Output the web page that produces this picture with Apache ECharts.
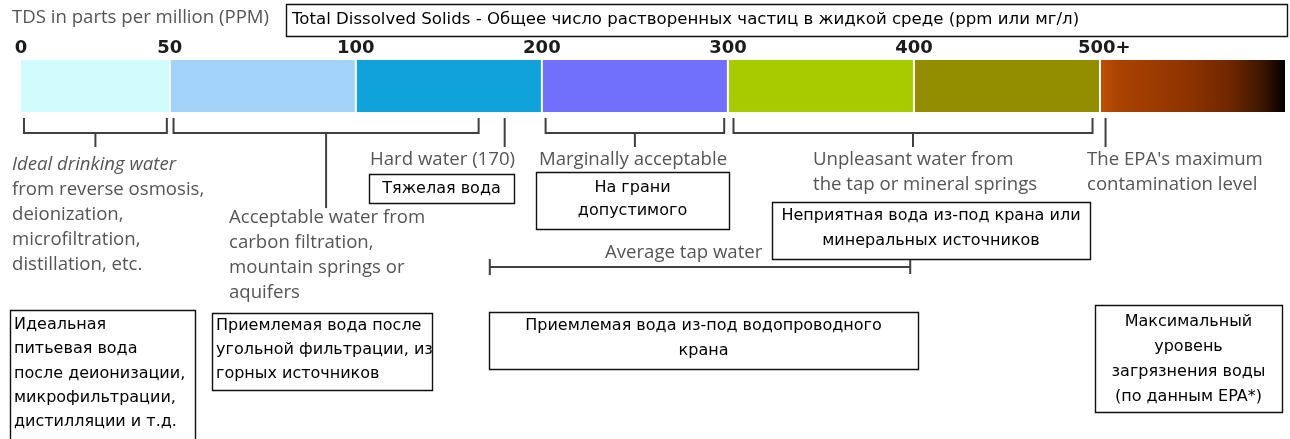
<!DOCTYPE html>
<html><head><meta charset="utf-8">
<script src="https://cdn.jsdelivr.net/npm/echarts@6/dist/echarts.min.js"></script>
<style>html,body{margin:0;padding:0;background:#fff}#c{width:1290px;height:439px}</style>
</head><body><div id="c"></div>
<script>
// ---------------- data ----------------
const bandStart = [0, 50, 100, 200, 300, 400, 500];
const bandEnd   = [50, 100, 200, 300, 400, 500, 600];
const tickValues = [0, 50, 100, 200, 300, 400, 500];
const tickLabels = ['0', '50', '100', '200', '300', '400', '500+'];
const bracketFrom = [1, 51, 202, 303];
const bracketTo   = [49, 166, 298, 496];
const markerValues = [180, 503];          // hard water (170) marker, EPA maximum level
const tapWaterRange = [172, 398];         // average tap water
const axisTitle = 'TDS in parts per million (PPM)';
const titleText = 'Total Dissolved Solids - Общее число растворенных частиц в жидкой среде (ppm или мг/л)';

// ---------------- layout / style ----------------
const bandUnits = [0.8, 1, 1, 1, 1, 1, 1];   // displayed width of each band
const bandColors = ['#d2fbfe', '#a4d3fa', '#0fa3da', '#7170fd', '#a8cb00', '#938d00', null];
const BAR_TOP = 60, BAR_H = 52;
const BR_TOP = 118, BR_Y = 133;
const stemEnd = [147, 208, 147, 147];
const LINE = '#404040';
const GREY = '#555555';
const EN_FONT = '"Open Sans"';
const EN_SIZE = 18.6;
const RU_FONT = '"DejaVu Sans"';
const RU_SIZE = 16;

function toPos(v) {
  let acc = 0;
  for (let i = 0; i < bandStart.length; i++) {
    if (v <= bandEnd[i] || i === bandStart.length - 1) {
      return acc + bandUnits[i] * (v - bandStart[i]) / (bandEnd[i] - bandStart[i]);
    }
    acc += bandUnits[i];
  }
  return acc;
}
const totalUnits = bandUnits.reduce((a, b) => a + b, 0);

const chart = echarts.init(document.getElementById('c'), null, {renderer: 'canvas'});
const px = (api, p) => api.coord([p, 0])[0];

const bandSeries = {
  type: 'custom', silent: true,
  data: bandStart.map((s, i) => [toPos(s), toPos(bandEnd[i]), i]),
  renderItem: (params, api) => {
    const x0 = px(api, api.value(0)), x1 = px(api, api.value(1)), i = api.value(2);
    const fill = bandColors[i] || new echarts.graphic.LinearGradient(0, 0, 1, 0, [
      {offset: 0, color: '#bd5008'}, {offset: 0.1, color: '#aa4200'},
      {offset: 0.45, color: '#903400'}, {offset: 0.7, color: '#702700'},
      {offset: 0.88, color: '#3c1500'}, {offset: 1, color: '#000000'}]);
    return {type: 'rect', shape: {x: x0 + (i ? 1 : 0), y: BAR_TOP, width: x1 - x0 - (i ? 2 : 1), height: BAR_H}, style: {fill}};
  }
};

const tickSeries = {
  type: 'custom', silent: true,
  data: tickValues.map((v, i) => [toPos(v), i]),
  renderItem: (params, api) => {
    const i = api.value(1);
    const x = px(api, api.value(0));
    return {
      type: 'text',
      style: {text: tickLabels[i], x: i === tickLabels.length - 1 ? x - 22 : x, y: 48,
        align: i === tickLabels.length - 1 ? 'left' : 'center', verticalAlign: 'middle', fill: '#1c1c1c',
        font: 'bold 18px "DejaVu Sans"'}
    };
  }
};

const bracketSeries = {
  type: 'custom', silent: true,
  data: bracketFrom.map((v, i) => [toPos(v), toPos(bracketTo[i]), i]),
  renderItem: (params, api) => {
    const x0 = px(api, api.value(0)), x1 = px(api, api.value(1)), i = api.value(2);
    const xm = (x0 + x1) / 2;
    const st = {stroke: LINE, lineWidth: 2, fill: null};
    return {type: 'group', children: [
      {type: 'polyline', shape: {points: [[x0, BR_TOP], [x0, BR_Y], [x1, BR_Y], [x1, BR_TOP]]}, style: st},
      {type: 'line', shape: {x1: xm, y1: BR_Y, x2: xm, y2: stemEnd[i]}, style: st}
    ]};
  }
};

const markerSeries = {
  type: 'custom', silent: true,
  data: markerValues.map(v => [toPos(v)]),
  renderItem: (params, api) => {
    const x = px(api, api.value(0));
    return {type: 'line', shape: {x1: x, y1: BR_TOP, x2: x, y2: 147}, style: {stroke: LINE, lineWidth: 2}};
  }
};

const tapSeries = {
  type: 'custom', silent: true,
  data: [[toPos(tapWaterRange[0]), toPos(tapWaterRange[1])]],
  renderItem: (params, api) => {
    const x0 = px(api, api.value(0)), x1 = px(api, api.value(1));
    const st = {stroke: LINE, lineWidth: 2};
    return {type: 'group', children: [
      {type: 'line', shape: {x1: x0, y1: 267, x2: x1, y2: 267}, style: st},
      {type: 'line', shape: {x1: x0, y1: 259, x2: x0, y2: 275}, style: st},
      {type: 'line', shape: {x1: x1, y1: 260, x2: x1, y2: 274}, style: st}
    ]};
  }
};

// ---------------- annotations ----------------
function enText(text, x, yc, align, lh, italic) {
  lh = lh || 25;
  return {type: 'text', x: x, y: yc - lh / 2, silent: true,
    style: {text, font: (italic ? 'italic ' : '') + EN_SIZE + 'px ' + EN_FONT, fill: GREY,
      align: align, verticalAlign: 'top', lineHeight: lh}};
}
function box(x, y, w, h, text, align, tx, firstCenter, lh, size) {
  return [
    {type: 'rect', silent: true, shape: {x: x + 0.5, y: y + 0.5, width: w, height: h},
      style: {fill: '#fff', stroke: '#111', lineWidth: 1.4}},
    {type: 'text', silent: true, x: tx, y: firstCenter - lh / 2,
      style: {text, font: (size || RU_SIZE) + 'px ' + RU_FONT, fill: '#000', align, verticalAlign: 'top', lineHeight: lh}}
  ];
}

const graphics = [].concat(
  [{type: 'text', x: 12, y: 18, silent: true,
    style: {text: axisTitle, font: EN_SIZE + 'px ' + EN_FONT, fill: GREY, align: 'left', verticalAlign: 'middle'}}],
  box(286, 4, 1001, 32, titleText, 'left', 292, 20, 20, 16.6),
  [enText('Ideal drinking water', 12, 165, 'left', 25, true),
   enText('from reverse osmosis,\ndeionization,\nmicrofiltration,\ndistillation, etc.', 12, 190, 'left', 25),
   enText('Acceptable water from\ncarbon filtration,\nmountain springs or\naquifers', 229, 218, 'left', 25),
   enText('Hard water (170)', 515, 160, 'right', 25),
   enText('Marginally acceptable', 633, 160, 'center', 25),
   enText('Unpleasant water from\nthe tap or mineral springs', 813, 160, 'left', 25),
   enText("The EPA's maximum\ncontamination level", 1087, 160, 'left', 25),
   enText('Average tap water', 605, 253, 'left', 25)],
  box(369, 174, 145, 29, 'Тяжелая вода', 'center', 441.5, 189, 24),
  box(536, 172, 193, 57, 'На грани\nдопустимого', 'center', 632.5, 188, 23),
  box(772, 202, 318, 57, 'Неприятная вода из-под крана или\nминеральных источников', 'center', 931, 216, 25),
  box(10, 310, 185, 140, 'Идеальная\nпитьевая вода\nпосле деионизации,\nмикрофильтрации,\nдистилляции и т.д.', 'left', 14, 325, 24.3),
  box(212, 313, 220, 77, 'Приемлемая вода после\nугольной фильтрации, из\nгорных источников', 'left', 216, 326, 24),
  box(489, 312, 429, 57, 'Приемлемая вода из-под водопроводного\nкрана', 'center', 703.5, 326, 25),
  box(1095, 305, 187, 107, 'Максимальный\nуровень\nзагрязнения воды\n(по данным EPA*)', 'center', 1188.5, 322, 25)
);

chart.setOption({
  animation: false,
  backgroundColor: '#fff',
  grid: {left: 21, right: 4, top: 0, bottom: 0},
  xAxis: {type: 'value', min: 0, max: totalUnits, show: false},
  yAxis: {type: 'value', min: 0, max: 1, show: false},
  series: [bandSeries, tickSeries, bracketSeries, markerSeries, tapSeries],
  graphic: graphics
});
</script></body></html>
